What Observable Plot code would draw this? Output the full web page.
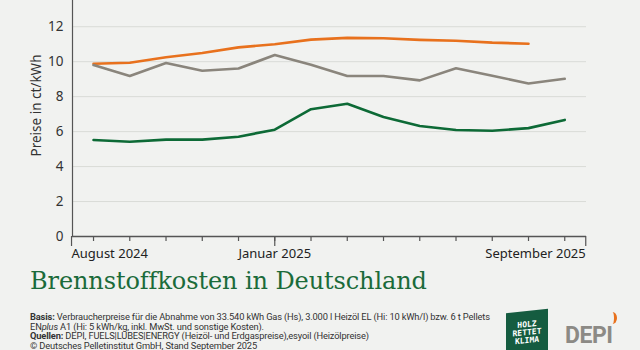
<!DOCTYPE html>
<html><head><meta charset="utf-8">
<script src="https://cdn.jsdelivr.net/npm/d3@7"></script>
<script src="https://cdn.jsdelivr.net/npm/@observablehq/plot@0.6"></script>
<style>
html,body{margin:0;padding:0;background:#f1f2f0;width:640px;height:350px;overflow:hidden;font-family:"Source Sans Pro","Noto Sans",sans-serif;}
#chart{position:absolute;left:0;top:0;}
#title{position:absolute;left:30px;top:267px;font-family:"DejaVu Serif",serif;font-size:24px;color:#1b6b3a;white-space:nowrap;letter-spacing:-0.1px;}
#foot{position:absolute;left:30px;top:312px;font-family:"Liberation Sans Narrow","Roboto","Noto Sans",sans-serif;font-size:9.3px;line-height:9.5px;color:#333;white-space:nowrap;letter-spacing:-0.15px;}
#logo1{position:absolute;left:506px;top:311px;width:42px;height:44px;background:#155c40;transform:skewY(-6deg);color:#fff;font:bold 8px "DejaVu Sans Mono",monospace;text-align:center;line-height:8px;padding-top:10px;box-sizing:border-box;}
#logo2{position:absolute;left:565px;top:322px;font:bold 23px "Roboto","Noto Sans",sans-serif;color:#8c8a85;letter-spacing:-0.5px;}
#flame{position:absolute;left:608px;top:312px;width:6px;height:12px;border-radius:50% 50% 50% 50%;border-right:3px solid #e8711d;}
</style></head>
<body>
<div id="chart"></div>
<div id="title">Brennstoffkosten in Deutschland</div>
<div id="foot">
<div><b>Basis:</b> Verbraucherpreise für die Abnahme von 33.540 kWh Gas (Hs), 3.000 l Heizöl EL (Hi: 10 kWh/l) bzw. 6 t Pellets</div>
<div>EN<i>plus</i> A1 (Hi: 5 kWh/kg, inkl. MwSt. und sonstige Kosten).</div>
<div><b>Quellen:</b> DEPI, FUELS|LUBES|ENERGY (Heizöl- und Erdgaspreise),esyoil (Heizölpreise)</div>
<div>© Deutsches Pelletinstitut GmbH, Stand September 2025</div>
</div>
<div id="logo1">HOLZ<br>RETTET<br>KLIMA</div>
<div id="logo2">DEPI</div>
<div id="flame"></div>
<script>
const months = ["August 2024","September 2024","Oktober 2024","November 2024","Dezember 2024","Januar 2025","Februar 2025","März 2025","April 2025","Mai 2025","Juni 2025","Juli 2025","August 2025","September 2025"];
const yTicks = [0, 2, 4, 6, 8, 10, 12];
const orangeSeries = [9.88, 9.94, 10.25, 10.5, 10.82, 11.0, 11.26, 11.36, 11.34, 11.25, 11.2, 11.09, 11.03];
const graySeries = [9.81, 9.18, 9.92, 9.48, 9.61, 10.38, 9.83, 9.18, 9.18, 8.93, 9.62, 9.2, 8.75, 9.02];
const greenSeries = [5.52, 5.42, 5.54, 5.54, 5.71, 6.11, 7.28, 7.59, 6.84, 6.32, 6.09, 6.05, 6.2, 6.67];

const toRows = (vals, s) => vals.map((v, i) => ({i, v, s}));
const rows = [...toRows(orangeSeries, "o"), ...toRows(graySeries, "g"), ...toRows(greenSeries, "n")];
const fmt = i => months[i];
const xAxisOpts = {tickSize: 10, tickPadding: 2, tickFormat: fmt, stroke: "#555", strokeWidth: 1.2, fontSize: 13, fill: "#222", label: null};

const chart = Plot.plot({
  width: 640, height: 262,
  marginLeft: 72, marginRight: 54, marginTop: 0, marginBottom: 26,
  style: {background: "transparent", fontFamily: "'Source Sans Pro','Noto Sans',sans-serif"},
  x: {domain: [-0.58, 13.6], axis: null},
  y: {domain: [0, 13.5], axis: null},
  color: {domain: ["o","g","n"], range: ["#e8711d","#8a857c","#0d6a36"]},
  marks: [
    Plot.gridY(yTicks, {stroke: "#d9dbd7", strokeOpacity: 1, strokeWidth: 1}),
    Plot.axisY(yTicks, {tickSize: 0, tickPadding: 9, fontSize: 13.5, fill: "#333", label: null}),
    Plot.text(["Preise in ct/kWh"], {frameAnchor: "left", textAnchor: "middle", rotate: -90, dx: -36, dy: -13, fontSize: 13.5, fill: "#333"}),
    Plot.ruleX([-0.58], {stroke: "#555", strokeWidth: 1.2}),
    Plot.ruleY([0], {stroke: "#555", strokeWidth: 1.5}),
    Plot.axisX(d3.range(14), {tickSize: 5, tickFormat: () => "", stroke: "#555", strokeWidth: 1.2, label: null}),
    Plot.axisX([0], {...xAxisOpts, textAnchor: "start", dx: -22}),
    Plot.axisX([5], xAxisOpts),
    Plot.axisX([13], {...xAxisOpts, textAnchor: "end", dx: 21}),
    Plot.line(rows, {x: "i", y: "v", z: "s", stroke: "s", strokeWidth: 2.6, curve: "linear"})
  ]
});
document.getElementById("chart").appendChild(chart);
</script>
</body></html>
